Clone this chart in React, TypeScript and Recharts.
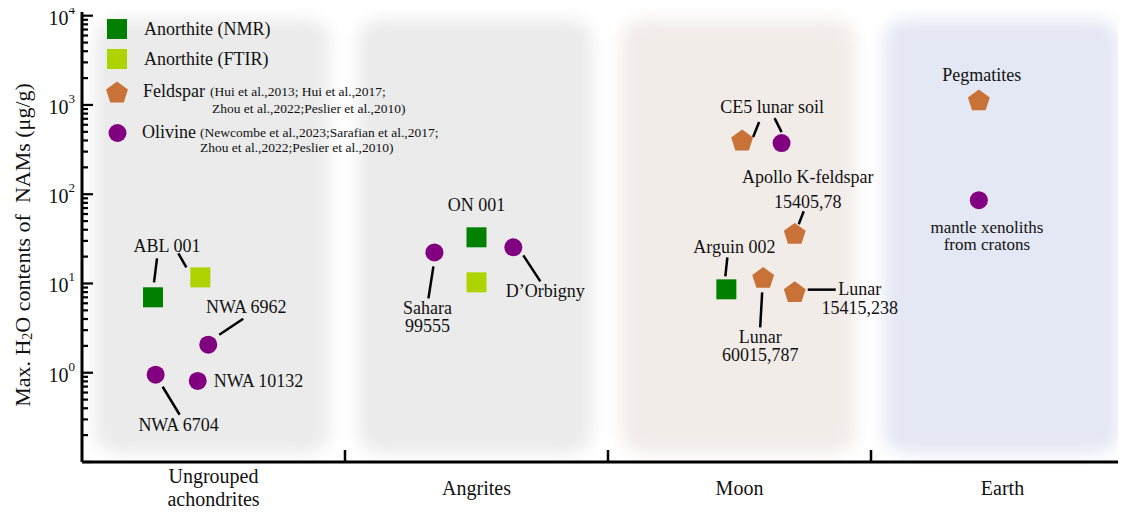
import { ScatterChart, Scatter, XAxis, YAxis, ReferenceArea } from "recharts";

const FONT = "'Liberation Serif', 'Times New Roman', serif";

if (typeof document !== "undefined") {
  document.documentElement.style.overflow = "hidden";
  document.body.style.overflow = "hidden";
}

const COLORS = {
  nmr: "#008000",
  ftir: "#add400",
  feldspar: "#c97237",
  olivine: "#800080",
};

// category bands along x (one unit per group)
const GROUPS = [["Ungrouped", "achondrites"], ["Angrites"], ["Moon"], ["Earth"]];
const BAND_COLORS = ["#ebebeb", "#ebebeb", "#f2ece9", "#e4e7f4"];

const X_TICKS = [0.5, 1, 1.5, 2, 2.5, 3, 3.5];
const DECADES = [-1, 0, 1, 2, 3, 4];
const Y_MAJOR = [0.1, 1, 10, 100, 1000, 10000];
const Y_TICKS = DECADES.flatMap((d) =>
  d === 4 ? [1e4] : [1, 2, 3, 4, 5, 6, 7, 8, 9].map((m) => +(m * Math.pow(10, d)).toPrecision(3))
);

// Max. H2O (μg/g) per sample; x = group index + position inside the group
const anorthiteNmr = [
  { id: "abl-nmr", x: 0.27, y: 7.0 },
  { id: "on-nmr", x: 1.5, y: 32.9 },
  { id: "arguin", x: 2.45, y: 8.6 },
];

const anorthiteFtir = [
  { id: "abl-ftir", x: 0.45, y: 11.7 },
  { id: "on-ftir", x: 1.5, y: 10.3 },
];

const feldspar = [
  { id: "ce5-fsp", x: 2.51, y: 405 },
  { id: "apollo", x: 2.71, y: 36.5 },
  { id: "lunar-60015", x: 2.59, y: 11.7 },
  { id: "lunar-15415", x: 2.71, y: 8.1 },
  { id: "pegmatites", x: 3.41, y: 1140 },
];

const olivine = [
  { id: "nwa-6962", x: 0.48, y: 2.06 },
  { id: "nwa-6704", x: 0.28, y: 0.95 },
  { id: "nwa-10132", x: 0.44, y: 0.81 },
  { id: "sahara", x: 1.34, y: 22.3 },
  { id: "dorbigny", x: 1.64, y: 25.4 },
  { id: "ce5-ol", x: 2.66, y: 374 },
  { id: "xenoliths", x: 3.41, y: 85.7 },
];

// annotation layout: text offset from the marker and leader line (px)
const NOTES: Record<string, any> = {
  "abl-nmr": { text: ["ABL 001"], at: [14, -51], lead: [4, -39, 1, -15] },
  "abl-ftir": { lead: [-22, -24, -14, -10] },
  "nwa-6962": { text: ["NWA 6962"], at: [38, -38], lead: [35, -26, 11, -10] },
  "nwa-10132": { text: ["NWA 10132"], at: [16, 0], anchor: "start" },
  "nwa-6704": { text: ["NWA 6704"], at: [23, 50], lead: [7, 12, 24, 40] },
  sahara: { text: ["Sahara", "99555"], at: [-7, 56], gap: 18, lead: [-1, 14, -6, 46] },
  "on-nmr": { text: ["ON 001"], at: [0, -32] },
  dorbigny: { text: ["D\u2019Orbigny"], at: [32, 44], lead: [10, 8, 27, 34] },
  "ce5-fsp": { text: ["CE5 lunar soil"], at: [30, -33], lead: [17, -18, 11, -3] },
  "ce5-ol": { lead: [-7, -25, 0, -11] },
  apollo: { text: ["Apollo K-feldspar", "15405,78"], at: [13, -56], gap: 25, lead: [9, -22, 4, -9] },
  arguin: { text: ["Arguin 002"], at: [8, -42], lead: [1, -32, -1, -13] },
  "lunar-60015": { text: ["Lunar", "60015,787"], at: [-3, 60], gap: 18, lead: [-1, 15, -3, 50] },
  "lunar-15415": { text: ["Lunar", "15415,238"], at: [65, -3], gap: 19, lead: [13, -2, 41, -2] },
  pegmatites: { text: ["Pegmatites"], at: [3, -25] },
  xenoliths: { text: ["mantle xenoliths", "from cratons"], at: [8, 27], gap: 17, size: 17 },
};

function Glyph({ kind, cx, cy, fill }: any) {
  if (kind === "square") return <rect x={cx - 10} y={cy - 10} width={20} height={20} fill={fill} />;
  if (kind === "circle") return <circle cx={cx} cy={cy} r={9} fill={fill} />;
  const r = 11.5;
  const off = (r * (1 - Math.cos(Math.PI / 5))) / 2;
  const pts = [0, 1, 2, 3, 4]
    .map((i) => {
      const a = -Math.PI / 2 + (i * 2 * Math.PI) / 5;
      return `${cx + r * Math.cos(a)},${cy + off + r * Math.sin(a)}`;
    })
    .join(" ");
  return <polygon points={pts} fill={fill} />;
}

function Note({ cx, cy, id }: any) {
  const n = NOTES[id];
  if (!n) return null;
  return (
    <g>
      {n.lead && (
        <line
          x1={cx + n.lead[0]}
          y1={cy + n.lead[1]}
          x2={cx + n.lead[2]}
          y2={cy + n.lead[3]}
          stroke="#000"
          strokeWidth={2.5}
        />
      )}
      {n.text &&
        n.text.map((t: string, i: number) => (
          <text
            key={i}
            x={cx + n.at[0]}
            y={cy + n.at[1] + i * (n.gap || 18)}
            textAnchor={n.anchor || "middle"}
            dominantBaseline="central"
            fontFamily={FONT}
            fontSize={n.size || 18}
            fill="#111"
          >
            {t}
          </text>
        ))}
    </g>
  );
}

const pointShape = (kind: string, fill: string) => (p: any) =>
  (
    <g>
      <Glyph kind={kind} cx={p.cx} cy={p.cy} fill={fill} />
      <Note cx={p.cx} cy={p.cy} id={p.payload?.id} />
    </g>
  );

function Band(p: any) {
  return (
    <rect x={p.x} y={p.y} width={p.width} height={p.height} rx={22} fill={p.fill} filter="url(#soft)" />
  );
}

function LeftTick({ x, y, payload }: any) {
  const v = payload.value;
  const major = Y_MAJOR.some((m) => Math.abs(m - v) < 1e-9 * m);
  const exp = Math.round(Math.log10(v));
  return (
    <g>
      <line x1={x} x2={x + (major ? 11 : 6)} y1={y} y2={y} stroke="#000" strokeWidth={2.2} />
      {major && exp >= 0 && (
        <text x={x - 7} y={y + 9} textAnchor="end" fontFamily={FONT} fontSize={20} fill="#111">
          10
          <tspan dy={-11} fontSize={13}>
            {exp}
          </tspan>
        </text>
      )}
    </g>
  );
}

function RightTick({ x, y }: any) {
  return <line x1={x} x2={x - 9} y1={y} y2={y} stroke="#000" strokeWidth={2.5} />;
}

function BottomTick({ x, y, payload }: any) {
  const v = payload.value;
  if (Number.isInteger(v)) return <line x1={x} x2={x} y1={y} y2={y - 12} stroke="#000" strokeWidth={2.5} />;
  const lines = GROUPS[Math.floor(v)];
  const top = lines.length > 1 ? y + 14 : y + 26;
  return (
    <g>
      {lines.map((t, i) => (
        <text
          key={i}
          x={x}
          y={top + i * 23}
          textAnchor="middle"
          dominantBaseline="central"
          fontFamily={FONT}
          fontSize={20}
          fill="#111"
        >
          {t}
        </text>
      ))}
    </g>
  );
}

function TopTick({ x, y }: any) {
  return <line x1={x} x2={x} y1={y} y2={y + 12} stroke="#000" strokeWidth={2.5} />;
}

function LegendAndTitle() {
  const t = { fontFamily: FONT, fill: "#111", dominantBaseline: "central" as const };
  return (
    <svg
      width={1126}
      height={512}
      style={{ position: "absolute", left: 0, top: 0, pointerEvents: "none" }}
    >
      <text
        transform="translate(22,245) rotate(-90)"
        textAnchor="middle"
        fontSize={22}
        style={{ whiteSpace: "pre" }}
        {...t}
      >
        Max. H
        <tspan dy={5} fontSize={14}>
          2
        </tspan>
        <tspan dy={-5}>{"O contents of  NAMs (μg/g)"}</tspan>
      </text>

      <Glyph kind="square" cx={117} cy={29} fill={COLORS.nmr} />
      <text x={144} y={29} fontSize={18} {...t}>
        Anorthite (NMR)
      </text>
      <Glyph kind="square" cx={117} cy={59} fill={COLORS.ftir} />
      <text x={144} y={59} fontSize={18} {...t}>
        Anorthite (FTIR)
      </text>
      <Glyph kind="pentagon" cx={117} cy={92} fill={COLORS.feldspar} />
      <text x={143} y={91} fontSize={18} {...t}>
        Feldspar
        <tspan dx={5} fontSize={13.5}>
          (Hui et al.,2013; Hui et al.,2017;
        </tspan>
      </text>
      <text x={212} y={108} fontSize={13.5} {...t}>
        Zhou et al.,2022;Peslier et al.,2010)
      </text>
      <Glyph kind="circle" cx={117.5} cy={133} fill={COLORS.olivine} />
      <text x={142} y={132} fontSize={18} {...t}>
        Olivine
        <tspan dx={4} fontSize={13.5}>
          (Newcombe et al.,2023;Sarafian et al.,2017;
        </tspan>
      </text>
      <text x={200} y={147} fontSize={13.5} {...t}>
        Zhou et al.,2022;Peslier et al.,2010)
      </text>
    </svg>
  );
}

export default function App() {
  return (
    <div
      style={{
        position: "relative",
        top: -8,
        left: -8,
        width: 1126,
        height: 512,
        overflow: "hidden",
        background: "#fff",
      }}
    >
      <ScatterChart width={1148} height={512} margin={{ top: 12, right: 0, bottom: 0, left: 0 }}>
        <defs>
          <filter id="soft" x="-15%" y="-15%" width="130%" height="130%">
            <feGaussianBlur stdDeviation={8} />
          </filter>
        </defs>
        {GROUPS.map((_, i) => (
          <ReferenceArea
            key={i}
            x1={i + 0.05}
            x2={i + 0.94}
            y1={0.126}
            y2={9000}
            fill={BAND_COLORS[i]}
            fillOpacity={1}
            stroke="none"
            shape={Band}
          />
        ))}
        <XAxis
          type="number"
          dataKey="x"
          domain={[0, 4]}
          ticks={X_TICKS}
          interval={0}
          height={50}
          tickSize={0}
          tickMargin={0}
          tick={<BottomTick />}
          axisLine={{ stroke: "#000", strokeWidth: 3 }}
          allowDataOverflow
        />
        <XAxis
          xAxisId="top"
          orientation="top"
          type="number"
          domain={[0, 4]}
          ticks={[1, 2, 3]}
          interval={0}
          height={0}
          tickSize={0}
          tickMargin={0}
          tick={<TopTick />}
          axisLine={{ stroke: "#000", strokeWidth: 3 }}
          allowDataOverflow
        />
        <YAxis
          type="number"
          dataKey="y"
          scale="log"
          domain={[0.1, 11000]}
          ticks={Y_TICKS}
          interval={0}
          width={82}
          tickSize={0}
          tickMargin={0}
          tick={<LeftTick />}
          axisLine={{ stroke: "#000", strokeWidth: 3 }}
          allowDataOverflow
        />
        <YAxis
          yAxisId="right"
          orientation="right"
          type="number"
          scale="log"
          domain={[0.1, 11000]}
          ticks={Y_MAJOR}
          interval={0}
          width={14}
          tickSize={0}
          tickMargin={0}
          tick={<RightTick />}
          axisLine={{ stroke: "#000", strokeWidth: 3 }}
          allowDataOverflow
        />
        <Scatter data={anorthiteNmr} shape={pointShape("square", COLORS.nmr)} isAnimationActive={false} />
        <Scatter data={anorthiteFtir} shape={pointShape("square", COLORS.ftir)} isAnimationActive={false} />
        <Scatter data={feldspar} shape={pointShape("pentagon", COLORS.feldspar)} isAnimationActive={false} />
        <Scatter data={olivine} shape={pointShape("circle", COLORS.olivine)} isAnimationActive={false} />
      </ScatterChart>
      <LegendAndTitle />
    </div>
  );
}
